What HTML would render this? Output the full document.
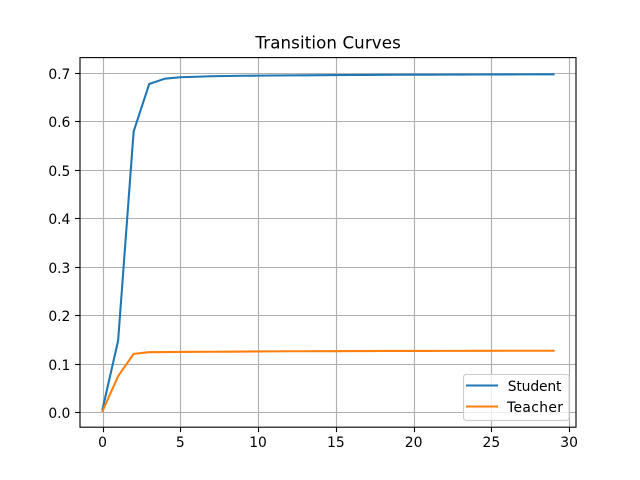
<!DOCTYPE html>
<html>
<head>
<meta charset="utf-8">
<title>Transition Curves</title>
<style>
html,body{margin:0;padding:0;background:#fff;}
svg{display:block;}
text{font-family:"DejaVu Sans","Liberation Sans",sans-serif;fill:#000;}
</style>
</head>
<body>
<svg id="chart" xmlns="http://www.w3.org/2000/svg" width="640" height="480" viewBox="0 0 640 480">
<rect x="0" y="0" width="640" height="480" fill="#fff"/>
<g id="grid"></g>
<g id="series"></g>
<rect x="80" y="57.6" width="496" height="369.6" fill="none" stroke="#000" stroke-width="1.11"/>
<g id="ticks"></g>
<text x="255.4" y="48.5" font-size="16.67" textLength="145.4">Transition Curves</text>
<g>
<rect x="463.5" y="374.5" width="105.6" height="45.9" rx="2.8" ry="2.8" fill="#fff" fill-opacity="0.8" stroke="#cccccc" stroke-width="1.11"/>
<line x1="467" y1="385.5" x2="497" y2="385.5" stroke="#1f77b4" stroke-width="2.08" stroke-linecap="square"/>
<text x="507.7" y="391" font-size="13.89" textLength="53.8">Student</text>
<line x1="467" y1="406.5" x2="497" y2="406.5" stroke="#ff7f0e" stroke-width="2.08" stroke-linecap="square"/>
<text x="507" y="412" font-size="13.89" textLength="56">Teacher</text>
</g>
</svg>
<script>
var xTicks = [0, 5, 10, 15, 20, 25, 30];
var yTicks = [0.0, 0.1, 0.2, 0.3, 0.4, 0.5, 0.6, 0.7];
var yTickLabels = ["0.0", "0.1", "0.2", "0.3", "0.4", "0.5", "0.6", "0.7"];
var epochs = [0,1,2,3,4,5,6,7,8,9,10,11,12,13,14,15,16,17,18,19,20,21,22,23,24,25,26,27,28,29];
var studentValues = [0.007,0.148,0.580,0.678,0.689,0.692,0.693,0.694,0.6945,0.695,0.6953,0.6956,0.6958,0.696,0.6962,0.6964,0.6966,0.6968,0.697,0.6971,0.6972,0.6973,0.6974,0.6975,0.6976,0.6977,0.6978,0.6979,0.698,0.698];
var teacherValues = [0.003,0.075,0.121,0.1245,0.1248,0.125,0.1252,0.1254,0.1256,0.1258,0.126,0.1262,0.1264,0.1264,0.1266,0.1266,0.1268,0.1268,0.127,0.127,0.1271,0.1271,0.1272,0.1272,0.1273,0.1273,0.1274,0.1274,0.1275,0.1275];

var NS = 'http://www.w3.org/2000/svg';
function xScale(v) { return 102.55 + v * 15.552; }
function yScale(v) { return 412.5 - v * 484.5; }
function mk(parent, tag, attrs) {
  var el = document.createElementNS(NS, tag);
  for (var k in attrs) { el.setAttribute(k, attrs[k]); }
  parent.appendChild(el);
  return el;
}
var gridG = document.getElementById('grid');
var seriesG = document.getElementById('series');
var ticksG = document.getElementById('ticks');

xTicks.forEach(function (t) {
  var x = Math.round(xScale(t)) + 0.5;
  var g = mk(gridG, 'line', {x1: x, x2: x, y1: 57.6, y2: 427.2, stroke: '#b0b0b0', 'stroke-width': 1.11});
  
  
  var m = mk(ticksG, 'line', {x1: x, x2: x, y1: 427.2, y2: 432.1, stroke: '#000', 'stroke-width': 1.11});
  
  
  var l = mk(ticksG, 'text', {x: xScale(t), y: 447, 'font-size': 13.89, 'text-anchor': 'middle'});
  l.textContent = String(t);
  
  
});

yTicks.forEach(function (t, i) {
  var y = Math.round(yScale(t) - 0.5) + 0.5;
  var g = mk(gridG, 'line', {x1: 80, x2: 576, y1: y, y2: y, stroke: '#b0b0b0', 'stroke-width': 1.11});
  
  
  var m = mk(ticksG, 'line', {x1: 75.1, x2: 80, y1: y, y2: y, stroke: '#000', 'stroke-width': 1.11});
  
  
  var l = mk(ticksG, 'text', {x: 70.4, y: y + 5.5, 'font-size': 13.89, 'text-anchor': 'end'});
  l.textContent = yTickLabels[i];
  
  
});

function pathFor(values) {
  return values.map(function (v, i) {
    return xScale(epochs[i]).toFixed(2) + ',' + yScale(v).toFixed(2);
  }).join(' ');
}
var studentLine = mk(seriesG, 'polyline', {points: pathFor(studentValues), fill: 'none', stroke: '#1f77b4', 'stroke-width': 2.08, 'stroke-linecap': 'square', 'stroke-linejoin': 'round'});


var teacherLine = mk(seriesG, 'polyline', {points: pathFor(teacherValues), fill: 'none', stroke: '#ff7f0e', 'stroke-width': 2.08, 'stroke-linecap': 'square', 'stroke-linejoin': 'round'});


</script>
</body>
</html>
